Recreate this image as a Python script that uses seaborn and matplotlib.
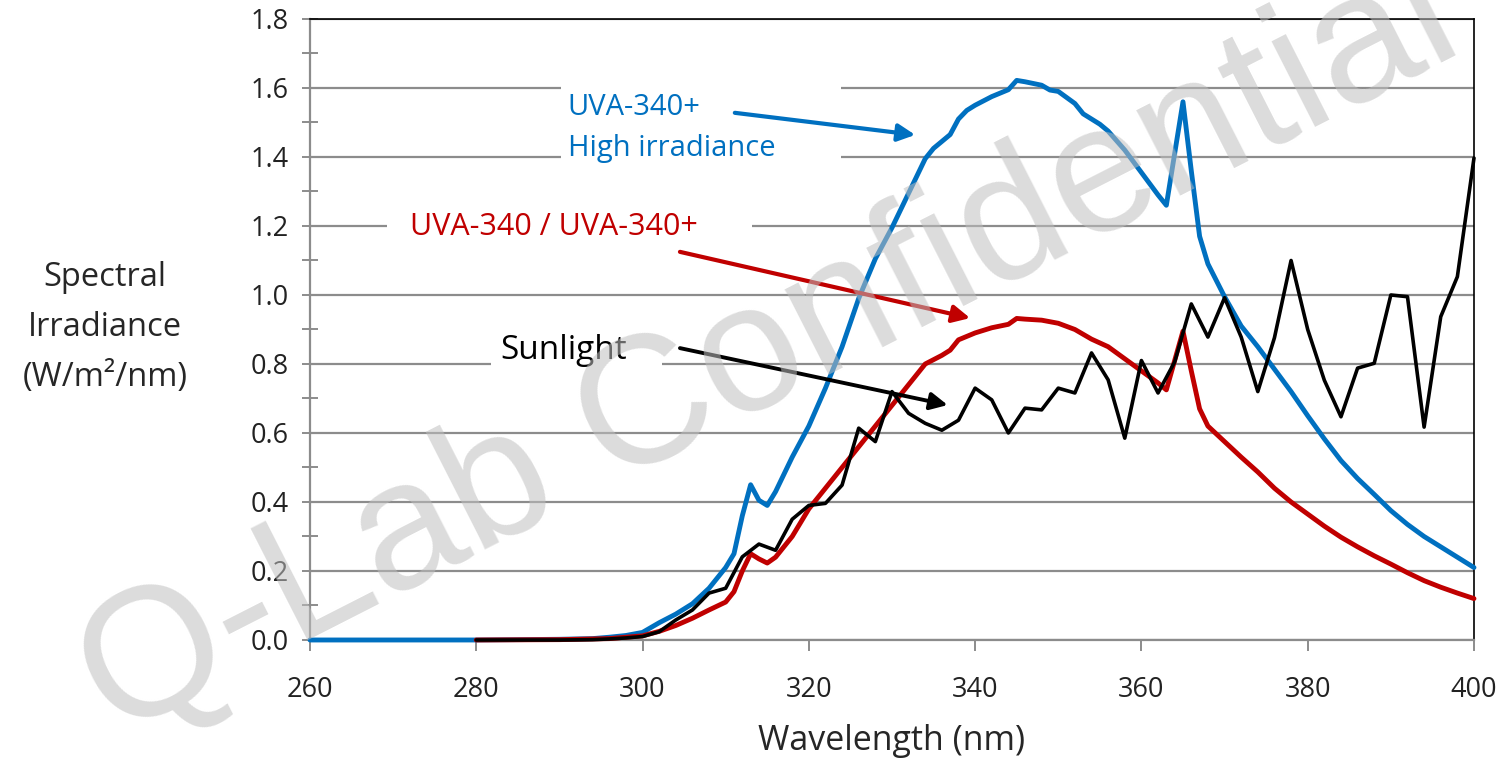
import pandas as pd
import seaborn as sns
import matplotlib.pyplot as plt
from matplotlib.patches import Rectangle

# wavelength (nm) and spectral irradiance (W/m2/nm)
wl_high = [260, 270, 280, 290, 294, 296, 298, 300, 302, 304, 306, 308, 310, 311,
           312, 313, 314, 315, 316, 318, 320, 322, 324, 326, 328, 330, 332, 334,
           335, 336, 337, 338, 339, 340, 342, 344, 345, 346, 348, 349, 350, 352,
           353, 354, 355, 356, 358, 360, 362, 363, 365, 366, 367, 368, 370, 372,
           374, 376, 378, 380, 382, 384, 386, 388, 390, 392, 394, 396, 398, 400]
uva340_high = [0, 0, 0, 0.002, 0.004, 0.008, 0.013, 0.022, 0.05, 0.075, 0.105, 0.15,
               0.21, 0.25, 0.36, 0.45, 0.405, 0.39, 0.43, 0.53, 0.62, 0.73, 0.85,
               0.99, 1.105, 1.195, 1.295, 1.395, 1.425, 1.445, 1.465, 1.51, 1.535,
               1.55, 1.575, 1.595, 1.622, 1.618, 1.608, 1.594, 1.59, 1.555, 1.525,
               1.51, 1.495, 1.475, 1.42, 1.355, 1.29, 1.26, 1.56, 1.36, 1.17, 1.09,
               0.995, 0.91, 0.85, 0.785, 0.72, 0.65, 0.583, 0.52, 0.468, 0.422,
               0.375, 0.335, 0.30, 0.27, 0.24, 0.21]

wl_std = [280, 290, 296, 300, 302, 304, 306, 308, 310, 311, 312, 313, 314, 315,
          316, 318, 320, 322, 324, 326, 328, 330, 332, 334, 336, 337, 338, 340,
          342, 344, 345, 346, 348, 350, 352, 354, 356, 358, 360, 362, 363, 365,
          366, 367, 368, 370, 372, 374, 376, 378, 380, 382, 384, 386, 388, 390,
          392, 394, 396, 398, 400]
uva340 = [0, 0.001, 0.004, 0.012, 0.025, 0.042, 0.063, 0.087, 0.11, 0.14, 0.2, 0.25,
          0.235, 0.223, 0.24, 0.30, 0.38, 0.44, 0.50, 0.56, 0.62, 0.68, 0.74, 0.80,
          0.825, 0.84, 0.87, 0.89, 0.905, 0.915, 0.932, 0.93, 0.927, 0.918, 0.90,
          0.872, 0.85, 0.815, 0.78, 0.745, 0.725, 0.895, 0.78, 0.67, 0.62, 0.575,
          0.53, 0.487, 0.44, 0.40, 0.365, 0.33, 0.298, 0.27, 0.244, 0.22, 0.195,
          0.172, 0.153, 0.136, 0.12]

wl_sun = [280, 290, 294, 296, 298, 300, 302, 304, 306, 308, 310, 312, 314, 316,
          318, 320, 322, 324, 326, 328, 330, 332, 334, 336, 338, 340, 342, 344,
          346, 348, 350, 352, 354, 356, 358, 360, 362, 364, 366, 368, 370, 372,
          374, 376, 378, 380, 382, 384, 386, 388, 390, 392, 394, 396, 398, 400]
sunlight = [0, 0, 0.001, 0.003, 0.006, 0.01, 0.024, 0.058, 0.087, 0.136, 0.15, 0.241,
            0.278, 0.26, 0.35, 0.39, 0.396, 0.449, 0.614, 0.575, 0.72, 0.657, 0.628,
            0.608, 0.637, 0.73, 0.696, 0.60, 0.672, 0.667, 0.73, 0.716, 0.832, 0.754,
            0.585, 0.81, 0.716, 0.806, 0.974, 0.878, 0.992, 0.878, 0.72, 0.876, 1.10,
            0.90, 0.753, 0.647, 0.788, 0.802, 1.0, 0.995, 0.617, 0.937, 1.053, 1.397]

BLUE = '#0070C0'
RED = '#C00000'
GRID = '#8c8c8c'

sns.set_style('white')
plt.rcParams['font.family'] = ['Open Sans', 'DejaVu Sans']

fig = plt.figure(figsize=(15.09, 7.59), dpi=100)
ax = fig.add_axes([0.2054, 0.1568, 0.7714, 0.8182])

# lines sit above the spines, so the zero level stays visible
sns.lineplot(x=wl_high, y=uva340_high, ax=ax, color=BLUE, linewidth=3.5,
             zorder=3, clip_on=False)
sns.lineplot(x=wl_std, y=uva340, ax=ax, color=RED, linewidth=3.5,
             zorder=3, clip_on=False)
sns.lineplot(x=wl_sun, y=sunlight, ax=ax, color='black', linewidth=2.6,
             zorder=3, clip_on=False)

ax.set_xlim(260, 400)
ax.set_ylim(0, 1.8)
ax.set_xticks(range(260, 401, 20))
ax.set_yticks([i * 0.2 for i in range(10)])
ax.set_yticks([i * 0.2 + 0.1 for i in range(9)], minor=True)
ax.set_yticklabels([f'{i * 0.2:.1f}' for i in range(10)])
ax.yaxis.grid(True, color=GRID, linewidth=1.6)
ax.set_axisbelow(True)

for side in ['left', 'bottom']:
    ax.spines[side].set_color(GRID)
    ax.spines[side].set_linewidth(1.6)
for side in ['top', 'right']:
    ax.spines[side].set_color('black')
    ax.spines[side].set_linewidth(1.2)

ax.tick_params(axis='y', which='both', direction='inout', length=11, width=1.4,
               color=GRID, labelsize=19.5, pad=10, left=True)
ax.tick_params(axis='x', direction='out', length=8, width=1.4, color=GRID,
               labelsize=19.5, pad=18, bottom=True)
for lab in ax.get_xticklabels() + ax.get_yticklabels():
    lab.set_color('#222222')

ax.set_xlabel('Wavelength (nm)', fontsize=24.5, labelpad=14)
ax.set_ylabel('')
fig.text(0.0696, 0.569, 'Spectral\nIrradiance\n(W/m²/nm)', fontsize=23.5,
         ha='center', va='center', linespacing=1.68)

# white text boxes that hide the gridlines behind the callouts
for x0, x1, y0, y1 in [(290.2, 323.9, 1.37, 1.64), (269.3, 313.2, 1.15, 1.25),
                       (281.8, 302.3, 0.77, 0.90)]:
    ax.add_patch(Rectangle((x0, y0), x1 - x0, y1 - y0, facecolor='white',
                           edgecolor='none', zorder=1.5))

ax.text(291.0, 1.484, 'UVA-340+\nHigh irradiance', color=BLUE, fontsize=21,
        ha='left', va='center', linespacing=1.55, zorder=4)
ax.annotate('', xy=(332.8, 1.464), xytext=(311.1, 1.528),
            arrowprops=dict(arrowstyle='-|>', color=BLUE, lw=3.0, mutation_scale=26,
                            shrinkA=0, shrinkB=0), zorder=4)
ax.text(272.0, 1.197, 'UVA-340 / UVA-340+', color=RED, fontsize=22,
        ha='left', va='center', zorder=4)
ax.annotate('', xy=(339.4, 0.933), xytext=(304.5, 1.125),
            arrowprops=dict(arrowstyle='-|>', color=RED, lw=3.0, mutation_scale=26,
                            shrinkA=0, shrinkB=0), zorder=4)
ax.text(282.9, 0.84, 'Sunlight', color='black', fontsize=24,
        ha='left', va='center', zorder=4)
ax.annotate('', xy=(336.7, 0.681), xytext=(304.5, 0.846),
            arrowprops=dict(arrowstyle='-|>', color='black', lw=2.8,
                            mutation_scale=26, shrinkA=0, shrinkB=0), zorder=4)

fig.text(0.51, 0.536, 'Q-Lab Confidential', fontsize=131, rotation=27,
         family=['Liberation Sans', 'DejaVu Sans'], color='#bfbfbf', alpha=0.55,
         ha='center', va='center', zorder=10)

plt.savefig('out.png', dpi=100)
